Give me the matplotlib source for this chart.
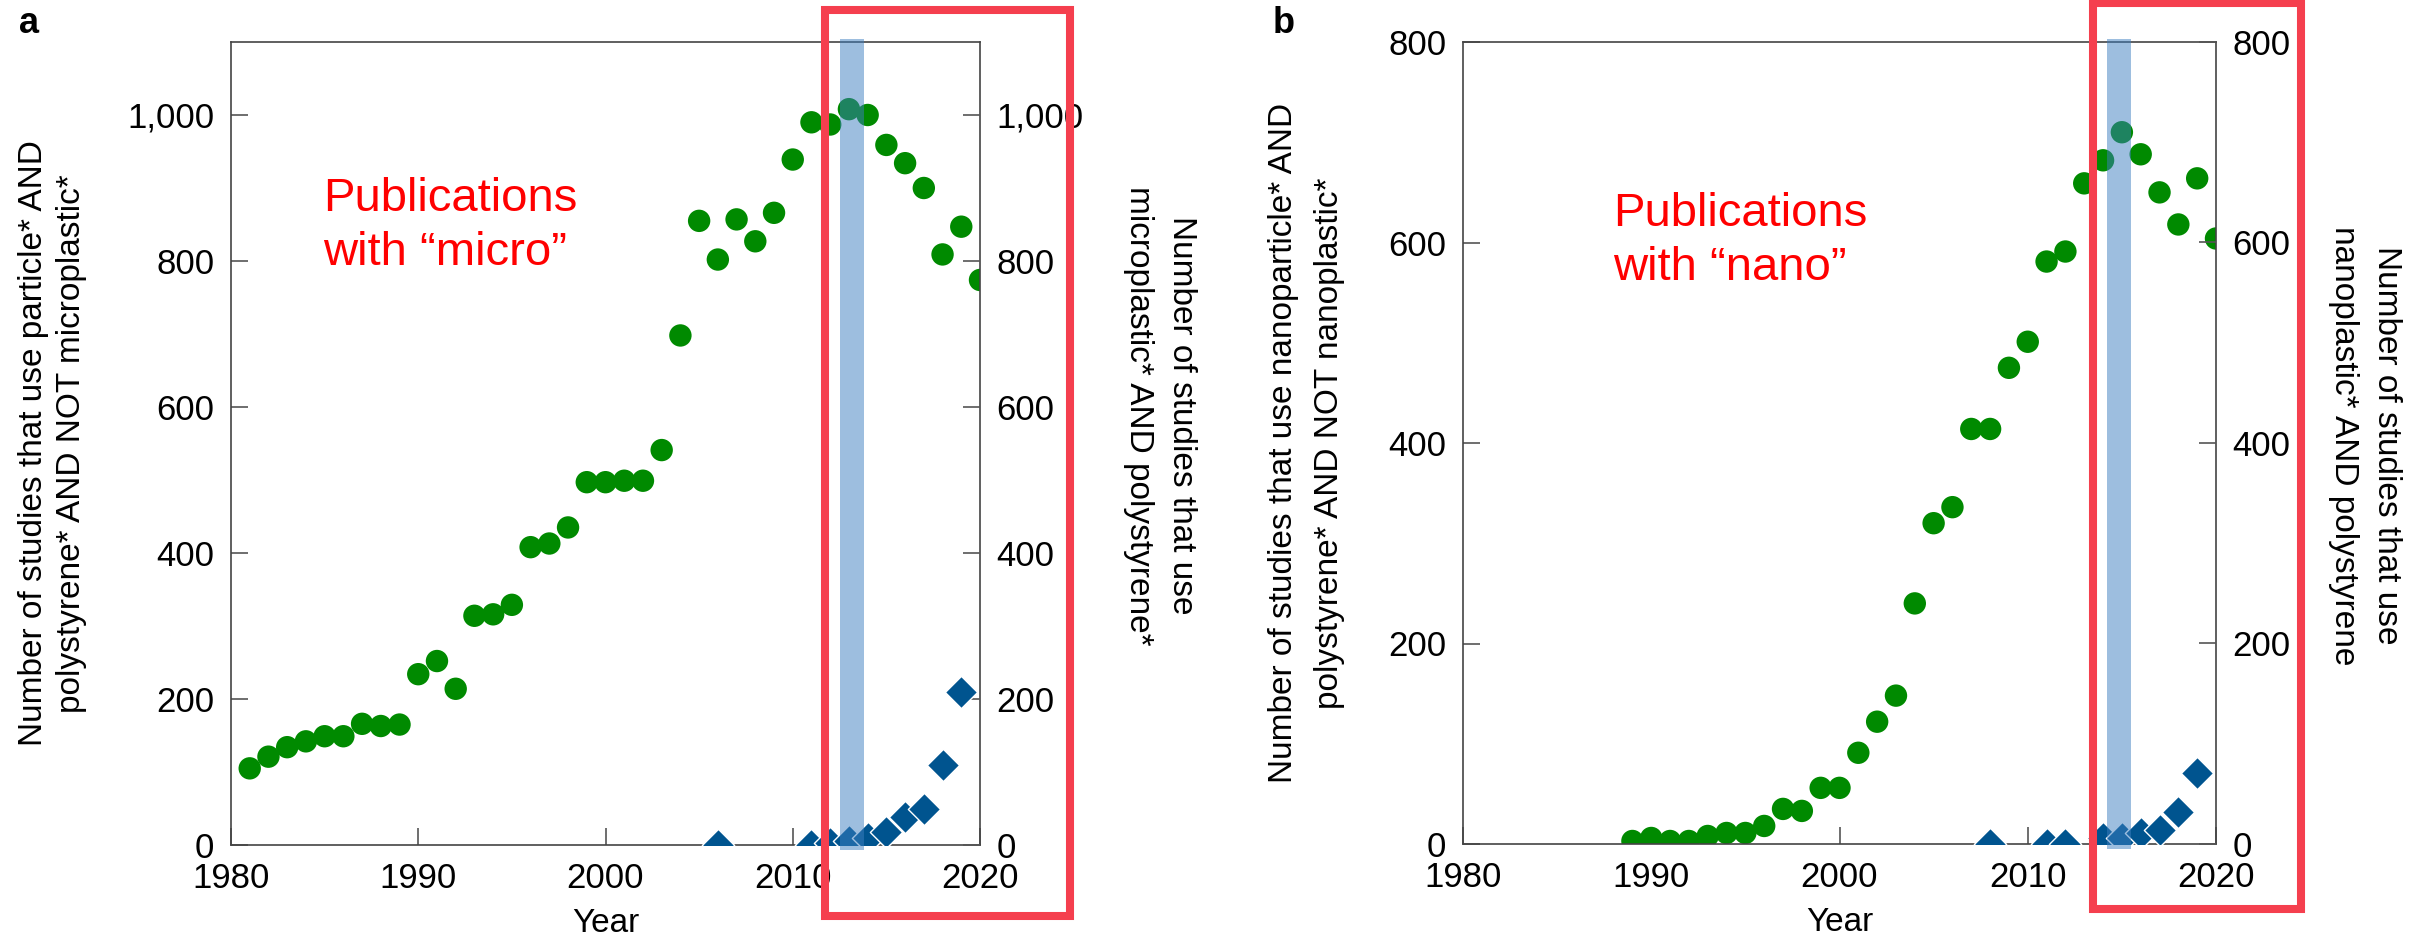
import numpy as np
import matplotlib
matplotlib.use('Agg')
import matplotlib.pyplot as plt
from matplotlib.ticker import StrMethodFormatter
from matplotlib.patches import Rectangle

plt.rcParams['font.family'] = ['Liberation Sans', 'DejaVu Sans']

# panel a: particle* / microplastic*
years_a = np.arange(1981, 2021)
particle_a = [105, 121, 134, 142, 149, 149, 166, 163, 165, 234,
              252, 214, 314, 316, 329, 408, 413, 435, 497, 497,
              499, 499, 541, 698, 855, 802, 857, 827, 866, 939,
              990, 987, 1008, 1000, 959, 934, 900, 809, 847, 774]
micro_years = [2006, 2011, 2012, 2013, 2014, 2015, 2016, 2017, 2018, 2019]
micro_ps = [0, 0, 3, 5, 9, 18, 38, 50, 109, 209]

# panel b: nanoparticle* / nanoplastic*
years_b = np.arange(1989, 2021)
particle_b = [3, 6, 3, 3, 8, 11, 11, 18, 35, 33,
              56, 56, 91, 122, 148, 240, 320, 336, 414, 414,
              475, 501, 581, 591, 659, 682, 710, 688, 650, 618,
              664, 604]
nano_years = [2008, 2011, 2012, 2014, 2015, 2016, 2017, 2018, 2019]
nano_ps = [0, 0, 0, 6, 6, 11, 14, 32, 71]

green = '#008a00'
blue = '#00548f'
band_col = '#3d7ec0'
box_red = '#f53f4e'
FS = 24

fig = plt.figure(figsize=(24.27, 9.40), dpi=100)


def panel(rect, years, counts, ps_years, ps_counts, ymax, yticks, band,
          fmt, text, text_xy, left_label, left_x, left_ls,
          right_label, right_xy):
    ax = fig.add_axes(rect)
    ax.scatter(years, counts, s=260, color=green, edgecolors='none', zorder=2)
    ax.set_xlim(1980, 2020)
    ax.set_ylim(0, ymax)
    ax.set_xticks([1980, 1990, 2000, 2010, 2020])
    ax.set_yticks(yticks)
    ax.yaxis.set_major_formatter(StrMethodFormatter(fmt))
    ax.tick_params(axis='both', direction='in', length=12, width=1.2,
                   color='#555555', labelsize=25, pad=12)
    for sp in ax.spines.values():
        sp.set_color('#444444')
        sp.set_linewidth(1.2)

    ax2 = ax.twinx()
    ax2.scatter(ps_years, ps_counts, s=270, marker='D', color=blue,
                edgecolors='white', linewidths=1.0, zorder=2)
    ax2.set_ylim(0, ymax)
    ax2.set_yticks(yticks)
    ax2.yaxis.set_major_formatter(StrMethodFormatter(fmt))
    ax2.tick_params(axis='y', direction='in', length=12, width=1.2,
                    color='#555555', labelsize=25, pad=12)
    for sp in ax2.spines.values():
        sp.set_visible(False)
    ax2.axvspan(band[0], band[1], ymin=-0.006, ymax=1.004, color=band_col,
                alpha=0.5, lw=0, zorder=5, clip_on=False)

    ax.text(text_xy[0], text_xy[1], text, transform=ax.transAxes,
            color='red', fontsize=34, ha='left', va='top', linespacing=1.3)
    ax.text(left_x, 0.5, left_label, transform=ax.transAxes, rotation=90,
            ha='center', va='center', fontsize=FS, linespacing=left_ls)
    ax.text(right_xy[0], right_xy[1], right_label, transform=ax.transAxes,
            rotation=270, ha='center', va='center', fontsize=FS,
            linespacing=1.5)
    ax.text(0.5, -0.098, 'Year', transform=ax.transAxes, ha='center',
            va='center', fontsize=FS)
    return ax


panel([231 / 2427, 95 / 940, 749 / 2427, 803 / 940],
      years_a, particle_a, micro_years, micro_ps, 1100,
      [0, 200, 400, 600, 800, 1000], (2012.5, 2013.8), '{x:,.0f}',
      'Publications\nwith \u201cmicro\u201d', (0.123, 0.832),
      'Number of studies that use particle* AND\npolystyrene* AND NOT microplastic*',
      -0.238, 1.3,
      'Number of studies that use\nmicroplastic* AND polystyrene*',
      (1.240, 0.535))

panel([1463 / 2427, 96 / 940, 753 / 2427, 802 / 940],
      years_b, particle_b, nano_years, nano_ps, 800,
      [0, 200, 400, 600, 800], (2014.2, 2015.5), '{x:.0f}',
      'Publications\nwith \u201cnano\u201d', (0.199, 0.813),
      'Number of studies that use nanoparticle* AND\npolystyrene* AND NOT nanoplastic*',
      -0.208, 1.65,
      'Number of studies that use\nnanoplastic* AND polystyrene',
      (1.198, 0.497))

fig.text(19 / 2427, 1 - 33 / 940, 'a', fontsize=26, fontweight='bold',
         va='baseline', ha='left')
fig.text(1273 / 2427, 1 - 33 / 940, 'b', fontsize=26, fontweight='bold',
         va='baseline', ha='left')

# red highlight boxes
for x0, x1, y0, y1 in [(825, 1070, 9.5, 916), (2093, 2301, 2.5, 909)]:
    fig.add_artist(Rectangle((x0 / 2427, 1 - y1 / 940), (x1 - x0) / 2427,
                             (y1 - y0) / 940, transform=fig.transFigure,
                             fill=False, edgecolor=box_red, linewidth=5.8))

fig.savefig('out.png', dpi=100)
